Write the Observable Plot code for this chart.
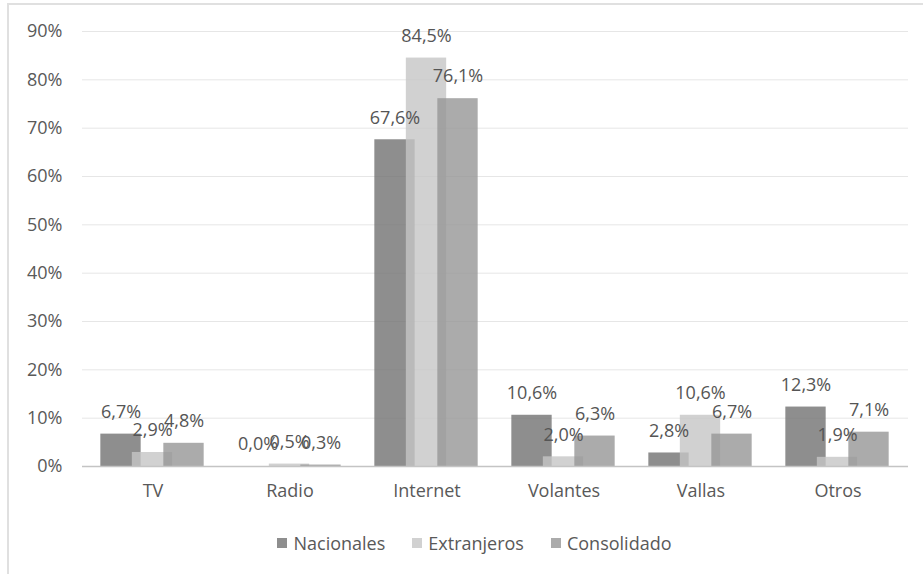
<!DOCTYPE html>
<html>
<head>
<meta charset="utf-8">
<script src="https://cdn.jsdelivr.net/npm/d3@7"></script>
<script src="https://cdn.jsdelivr.net/npm/@observablehq/plot@0.6"></script>
<style>
  html, body { margin: 0; padding: 0; background: #ffffff; overflow: hidden; }
  #wrap { position: relative; width: 923px; height: 574px; overflow: hidden; font-family: "Open Sans", sans-serif; }
  #frame { position: absolute; left: 7px; top: 3px; width: 940px; height: 620px; border: 2px solid #e0e0e0; box-sizing: border-box; }
  #chart { position: absolute; left: 0; top: 0; }
  #legend { position: absolute; left: 8px; width: 933px; top: 530px; height: 26px; display: flex; justify-content: center; align-items: center; gap: 27px; font-size: 18px; color: #595959; }
  .item { display: flex; align-items: center; gap: 6px; white-space: nowrap; }
  .sw { width: 10px; height: 10px; display: inline-block; }
</style>
</head>
<body>
<div id="wrap">
  <div id="frame"></div>
  <div id="chart"></div>
  <div id="legend"></div>
</div>
<script>
const categories = ["TV", "Radio", "Internet", "Volantes", "Vallas", "Otros"];
const seriesNames = ["Nacionales", "Extranjeros", "Consolidado"];
const nacionales = [6.7, 0.0, 67.6, 10.6, 2.8, 12.3];
const extranjeros = [2.9, 0.5, 84.5, 2.0, 10.6, 1.9];
const consolidado = [4.8, 0.3, 76.1, 6.3, 6.7, 7.1];
const yTicks = [0, 10, 20, 30, 40, 50, 60, 70, 80, 90];
// raw fills drawn at 80% opacity (so overlaps show through); legend uses the resulting tones
const seriesFills = ["#727272", "#c5c5c5", "#969696"];
const legendColors = ["#8e8e8e", "#d1d1d1", "#ababab"];

const seriesValues = [nacionales, extranjeros, consolidado];

const W = 923, H = 510;
const mL = 82, mR = 15, mT = 31, mB = 44;
const bw = (W - mL - mR) / categories.length;
const barW = 41;
const offsets = [-32, -0.5, 31];

const fmt = v => v.toFixed(1).replace(".", ",") + "%";

const barMarks = [];
const textMarks = [];
seriesValues.forEach((vals, i) => {
  const data = categories.map((c, j) => ({cat: c, v: vals[j]}));
  const off = offsets[i];
  barMarks.push(Plot.barY(data, {
    x: "cat", y: "v",
    fill: seriesFills[i], fillOpacity: 0.8,
    insetLeft: bw / 2 + off - barW / 2,
    insetRight: bw / 2 - off - barW / 2
  }));
  textMarks.push(Plot.text(data, {
    x: "cat", y: "v",
    text: d => fmt(d.v),
    dx: off, dy: -22,
    fill: "#555555", fontSize: 18
  }));
});

const chart = Plot.plot({
  width: W, height: H,
  marginLeft: mL, marginRight: mR, marginTop: mT, marginBottom: mB,
  style: {fontFamily: "'Open Sans', sans-serif", fontSize: "18px", color: "#595959", background: "transparent", overflow: "visible"},
  x: {domain: categories, padding: 0, label: null},
  y: {domain: [0, 90], label: null},
  marks: [
    Plot.gridY(yTicks, {stroke: "#e6e6e6", strokeOpacity: 1, strokeWidth: 1}),
    ...barMarks,
    Plot.ruleY([0], {stroke: "#c4c4c4", strokeWidth: 1.5}),
    ...textMarks,
    Plot.axisX({tickSize: 0, tickPadding: 18, label: null, fontSize: 18}),
    Plot.axisY(yTicks, {tickSize: 0, tickPadding: 20, label: null, tickFormat: d => d + "%", fontSize: 18})
  ]
});
document.getElementById("chart").appendChild(chart);

const legend = document.getElementById("legend");
seriesNames.forEach((name, i) => {
  const item = document.createElement("div");
  item.className = "item";
  const sw = document.createElement("span");
  sw.className = "sw";
  sw.style.background = legendColors[i];
  const label = document.createElement("span");
  label.textContent = name;
  item.appendChild(sw);
  item.appendChild(label);
  legend.appendChild(item);
});
</script>
</body>
</html>
